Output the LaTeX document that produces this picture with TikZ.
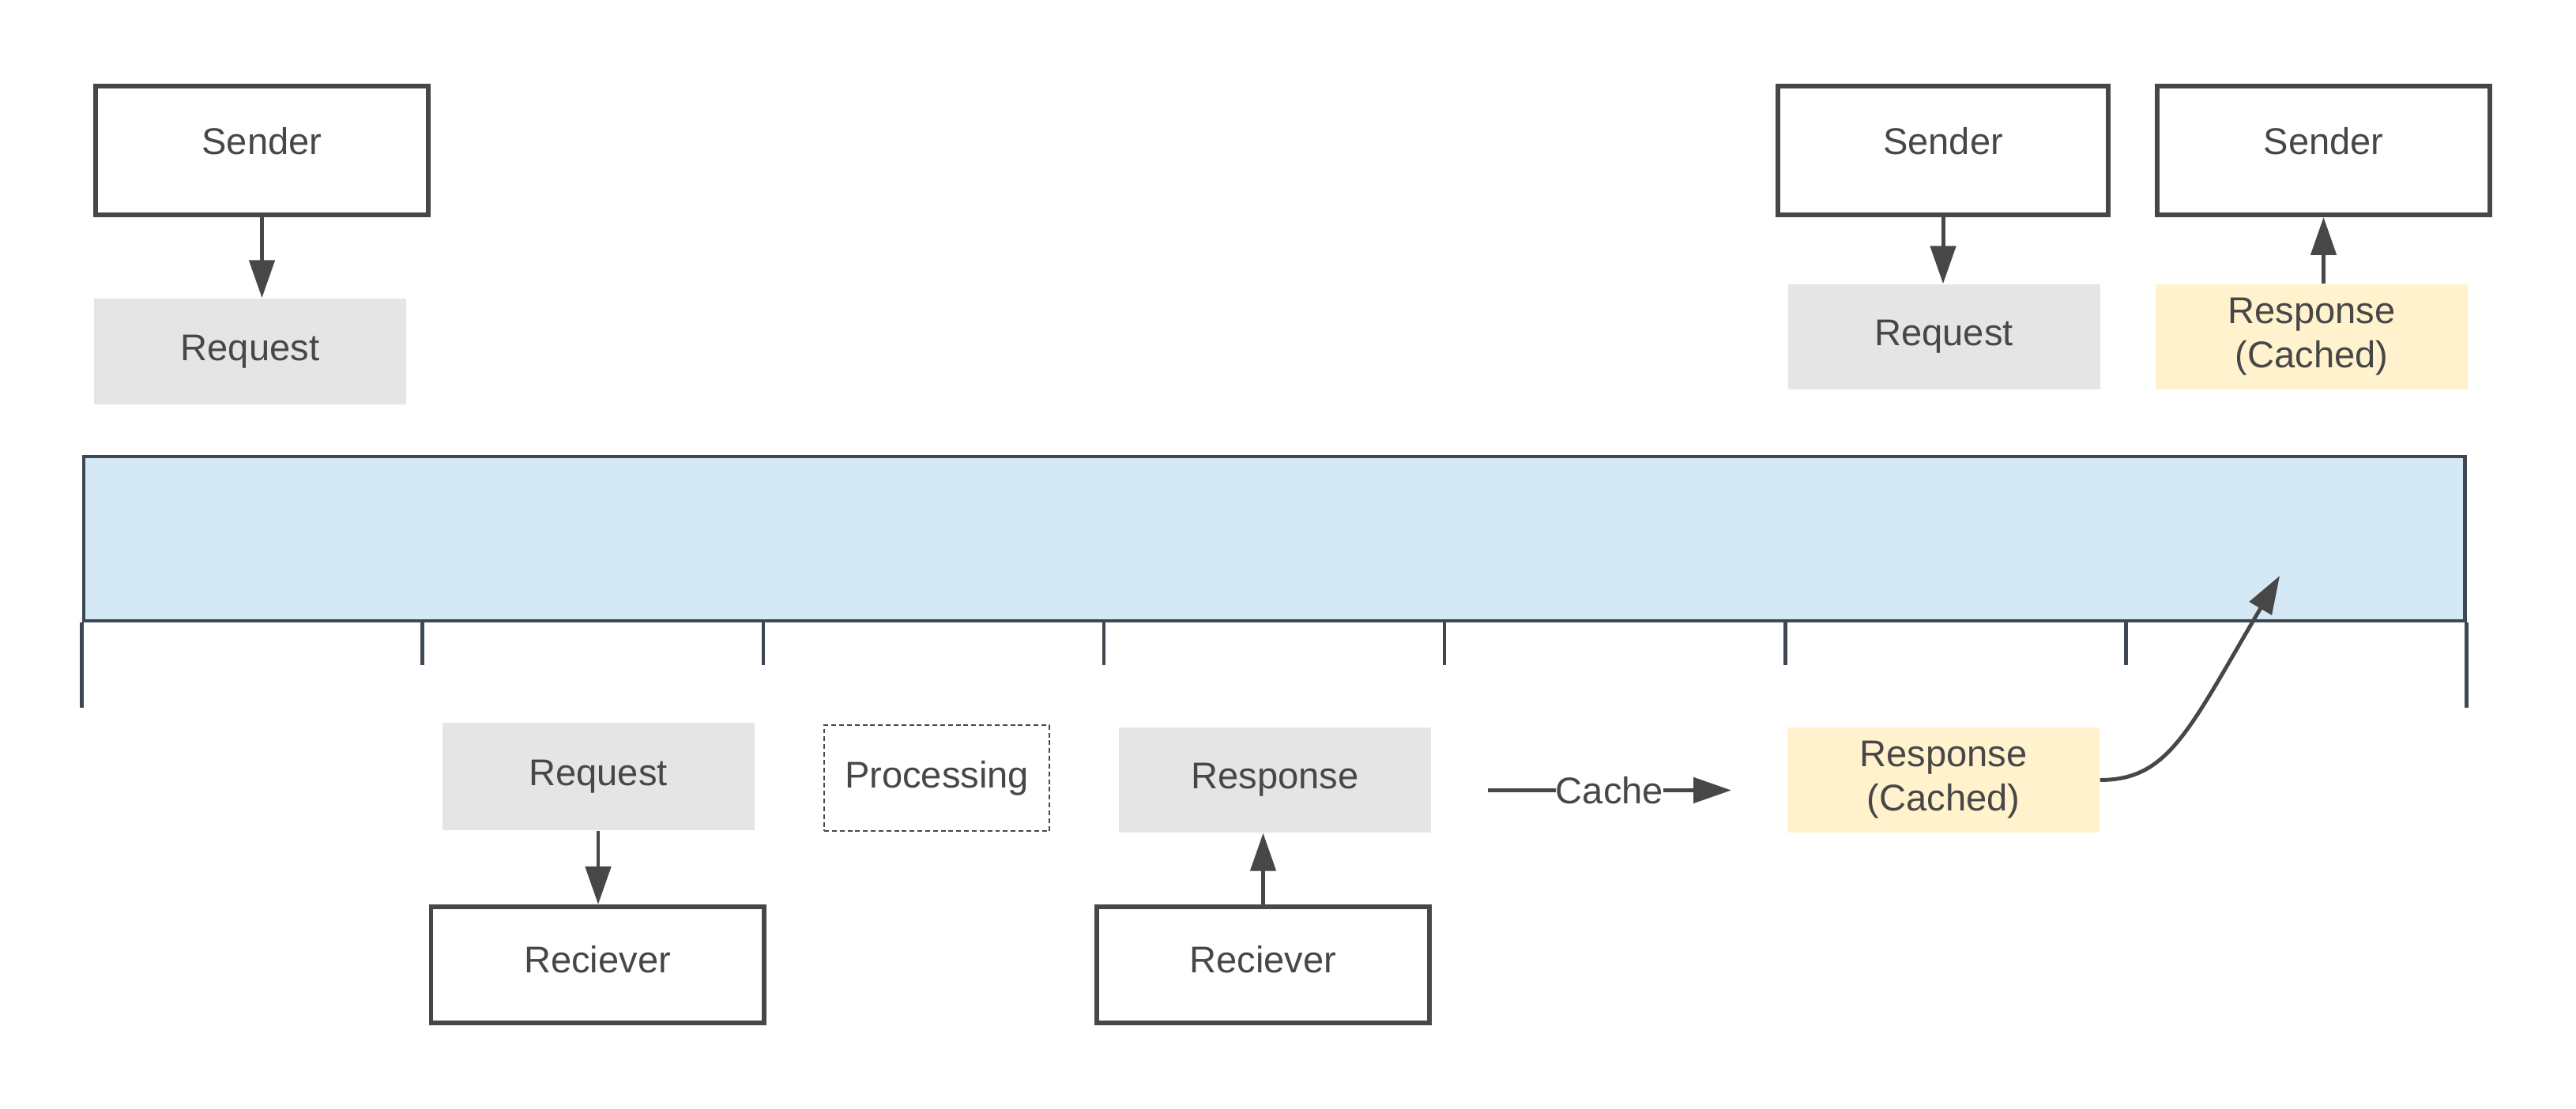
\documentclass[tikz,border=0pt]{standalone}
\usepackage{fontspec}
\setmainfont{Liberation Sans}
\usetikzlibrary{positioning}
\usetikzlibrary{arrows.meta}
\usetikzlibrary{calc}
\definecolor{ink}{HTML}{474747}
\definecolor{msggray}{HTML}{E5E5E5}
\definecolor{cacheyellow}{HTML}{FFF2CC}
\definecolor{barblue}{HTML}{D5E8F5}
\definecolor{barline}{HTML}{3D4852}
\begin{document}
\begin{tikzpicture}
  [font=\fontsize{13.4}{16}\selectfont,text=ink,
  endpoint/.style={rectangle,draw=ink,line width=1.7pt,fill=white,inner sep=0pt,text depth=0.15cm,minimum width=4.21cm,minimum height=1.63cm},
  sender/.style={endpoint,text depth=0.25cm},
  message/.style={rectangle,fill=msggray,inner sep=0pt,minimum width=3.95cm,minimum height=1.34cm,align=center},
  cached/.style={message,fill=cacheyellow},
  work/.style={rectangle,draw=ink,line width=0.7pt,dash pattern=on 1.7pt off 1.1pt,inner sep=0pt,minimum width=2.85cm,minimum height=1.34cm},
  flow/.style={draw=ink,line width=1.4pt,-{Triangle[length=4.8mm,width=3.2mm]}},
  tick/.style={draw=barline,line width=1.3pt}]
  \useasboundingbox (0,0) rectangle (32.6,14.04);

  \node[sender] (s1) at (3.315,12.135) {Sender};
  \node[sender,minimum width=4.18cm] (s2) at (24.59,12.135) {Sender};
  \node[sender] (s3) at (29.405,12.135) {Sender};

  \node[message] (q1) at (3.165,9.59) {Request};
  \node[message,minimum height=1.33cm] (q3) at (24.60,9.775) {Request};
  \node[cached,minimum height=1.33cm] (c1) at (29.255,9.775) {Response\\(Cached)};

  \node[rectangle,draw=barline,line width=1.4pt,fill=barblue,minimum width=30.13cm,minimum height=2.08cm] (bar) at (16.125,7.22) {};

  \node[message,minimum height=1.36cm] (q2) at (7.57,4.21) {Request};
  \node[work] (p1) at (11.855,4.19) {Processing};
  \node[message,minimum height=1.33cm] (r1) at (16.135,4.165) {Response};
  \node[cached,minimum height=1.33cm] (c2) at (24.595,4.165) {Response\\(Cached)};

  \node[endpoint,minimum height=1.47cm] (v1) at (7.56,1.825) {Reciever};
  \node[endpoint,minimum height=1.47cm] (v2) at (15.985,1.825) {Reciever};

  \draw[tick] (bar.south west) -- ++(0,-1.08);
  \draw[tick] (bar.south east) -- ++(0,-1.08);
  \foreach \i in {1,...,6}
    \draw[tick] ($(bar.south west)!\i/7!(bar.south east)$) -- ++(0,-0.54);

  \draw[flow] (s1.south) -- (s1.south |- q1.north);
  \draw[flow] (s2.south) -- (s2.south |- q3.north);
  \draw[flow] (s3.south |- c1.north) -- (s3.south);
  \draw[flow] (q2.south) -- (q2.south |- v1.north);
  \draw[flow] (v2.north) -- (v2.north |- r1.south);

  \coordinate (k1) at (18.83,4.035);
  \coordinate (k2) at (21.91,4.035);
  \draw[flow] (k1) -- node[fill=white,inner sep=0pt] {Cache} (k2);

  \coordinate (t1) at (28.85,6.75);
  \draw[flow] (c2.east) .. controls (27.45,4.165) and (27.7,4.8) .. (t1);
\end{tikzpicture}
\end{document}
